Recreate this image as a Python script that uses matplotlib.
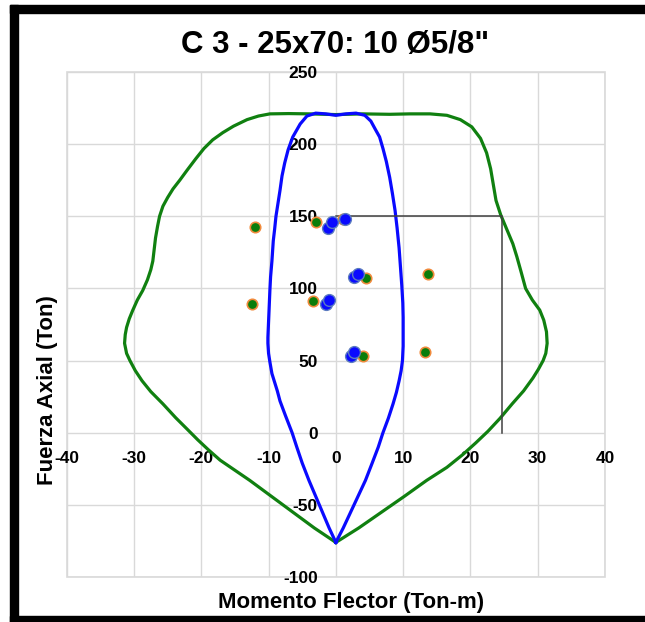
import numpy as np
import matplotlib
matplotlib.use("Agg")
import matplotlib.pyplot as plt
from matplotlib.patches import Rectangle

plt.rcParams['font.family'] = ['Liberation Sans', 'DejaVu Sans']
plt.rcParams['axes.unicode_minus'] = False

# interaction curve (green)
green_m = [0, -3.2, -6.4, -9.6, -12.8, -15, -17.2, -18.9, -20.5, -22.1, -23.8, -25.7, -27.5,
           -28.8, -29.8, -30.6, -31.1, -31.4, -31.3, -31.1, -30.7, -30.2, -29.5, -28.7, -28,
           -27.5, -27.2, -27, -26.8, -26.5, -26.2, -25.7, -25, -24.2, -23.2, -22.1, -20.8,
           -19.6, -18.3, -16.8, -15.2, -13.2, -11.5, -9.8, -7, -4, 0, 4, 8, 11, 14, 16.5,
           18.5, 20.2, 21.5, 22.4, 23.0, 23.4, 23.8, 24.5, 25.4, 26.3, 26.9, 27.5, 28.2,
           29.2, 30.3, 30.9, 31.3, 31.4, 31.2, 30.8, 30.1, 29.3, 27.9, 26.2, 24.4, 22.6,
           20.8, 18.9, 16.5, 13.5, 10.2, 6.8, 3.4, 0]
green_p = [-76, -66, -55, -44, -33, -26, -19, -12, -5, 2.5, 10.4, 20, 28.5,
           36, 43, 50, 55, 62, 68, 73, 79, 84.7, 92, 98.6, 106,
           113, 119, 127, 135, 143, 150, 157, 163, 169, 175, 182, 190,
           197, 203, 208, 212.5, 217, 219.5, 221, 221.2, 221, 220.5, 221, 220.7, 221, 221, 220,
           217, 212, 204, 194, 183, 172, 161, 151, 141, 131, 122, 112, 100,
           92, 85, 78, 70, 62, 55, 50, 44, 38, 29, 20, 10, 1,
           -7, -15, -24, -33, -44, -55, -66, -76]

# interaction curve (blue)
blue_m = [0, -1.0, -2.0, -3.0, -4.0, -5.0, -5.8, -6.5, -7.5, -8.3, -8.7, -9.1, -9.5, -9.8, -10,
          -10.1, -10.1, -10, -9.9, -9.8, -9.7, -9.5, -9.3, -9.1, -8.9, -8.6, -8.3, -8.0,
          -7.6, -7.1, -6.4, -5.3, -4.3, -3, -1.5, 0, 1.5, 3, 4.3, 5.2, 5.9, 6.5, 7.0, 7.5,
          8.0, 8.4, 8.8, 9.1, 9.4, 9.6, 9.8, 9.95, 10, 10, 10, 9.9, 9.7, 9.4, 9.0, 8.5,
          7.8, 7.0, 6.3, 5.4, 4.4, 3.3, 2.2, 1.1, 0]
blue_p = [-76, -66, -55, -44, -33, -21, -10, 0, 12, 22, 29, 35, 41, 49, 55,
          62, 66, 77, 88, 99, 108, 119, 133, 141, 150, 159, 168, 178,
          187, 196, 205, 214, 219.5, 221.5, 221, 220, 221, 221.5, 220, 216, 210, 205, 197, 188,
          177, 166, 154, 142, 128, 115, 102, 90, 80, 70, 60, 50, 43, 36, 28, 20,
          10, 0, -10, -21, -33, -44, -55, -66, -76]

# load points
pts_green_m = [-12.0, -12.5, -3.0, -3.4, 4.5, 4.0, 13.7, 13.2, 1.0]
pts_green_p = [142.4, 89, 146, 91.6, 107, 53, 110, 56, 148]
pts_blue_m = [-1.2, -0.6, 1.3, 2.7, 3.3, -1.5, -1.0, 2.2, 2.7]
pts_blue_p = [142, 146, 148, 108, 110, 89, 92, 53, 56]

# reference guide line
guide_m = [0, 24.7, 24.7]
guide_p = [150, 150, 0]

fig = plt.figure(figsize=(6.45, 6.22), dpi=100)
ax = fig.add_axes([0.1034, 0.0723, 0.8346, 0.8119])

ax.plot(green_m, green_p, color='#108010', lw=2.3, zorder=3, solid_joinstyle='round')
ax.plot(blue_m, blue_p, color='#0a0aff', lw=2.3, zorder=3, solid_joinstyle='round')
ax.plot(guide_m, guide_p, color='#404040', lw=1.1, zorder=3)
ax.plot(pts_green_m, pts_green_p, 'o', ms=7.5, mfc='#0a7d0a', mec='#f08a3c', mew=1.2, zorder=4)
ax.plot(pts_blue_m, pts_blue_p, 'o', ms=8.5, mfc='#0a0aff', mec='#5b7bc0', mew=1.0, zorder=5)

ax.set_xlim(-40, 40)
ax.set_ylim(-100, 250)
ax.set_xticks(np.arange(-40, 41, 10))
ax.set_yticks(np.arange(-100, 251, 50))
ax.grid(True, color='#d9d9d9', lw=1.0)
ax.set_axisbelow('line')

ax.spines['left'].set_position(('data', 0))
ax.spines['bottom'].set_position(('data', 0))
for s in ['left', 'bottom', 'top', 'right']:
    ax.spines[s].set_visible(False)
ax.add_patch(Rectangle((0, 0), 1, 1, transform=ax.transAxes, fill=False,
                       ec='#d9d9d9', lw=1.2, zorder=0.4, clip_on=False))
ax.tick_params(length=0, labelsize=12.5)
ax.tick_params(axis='x', pad=13)
ax.tick_params(axis='y', pad=13)
for lab in ax.get_xticklabels() + ax.get_yticklabels():
    lab.set_fontweight('bold')

fig.text(0.52, 0.928, 'C 3 - 25x70: 10 \u00d85/8"', ha='center', va='center',
         fontsize=22.5, fontweight='bold')
fig.text(0.545, 0.031, 'Momento Flector (Ton-m)', ha='center', va='center',
         fontsize=16, fontweight='bold')
fig.text(0.073, 0.373, 'Fuerza Axial (Ton)', ha='center', va='center', rotation=90,
         fontsize=16, fontweight='bold')

# black frame round the picture
W, H = 645, 622
fig.patches.append(Rectangle((10 / W, 1 - 13 / H), 1, 8 / H, transform=fig.transFigure,
                             color='black', zorder=10))
fig.patches.append(Rectangle((10 / W, 0), 8 / W, 1 - 5 / H, transform=fig.transFigure,
                             color='black', zorder=10))
fig.patches.append(Rectangle((10 / W, 0), 1, 6 / H, transform=fig.transFigure,
                             color='black', zorder=10))

fig.savefig('out.png', dpi=100)
